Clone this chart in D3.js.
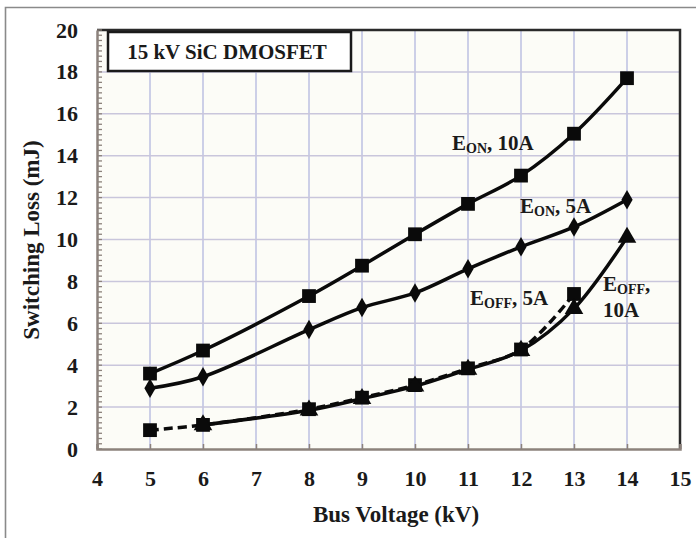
<!DOCTYPE html>
<html>
<head>
<meta charset="utf-8">
<script src="https://cdn.jsdelivr.net/npm/d3@7"></script>
<style>
  html, body { margin: 0; padding: 0; background: #ffffff; }
  svg { display: block; }
  text { font-family: "Liberation Serif", "Times New Roman", serif; fill: #1a1a1a; }
</style>
</head>
<body>
<svg id="chart" width="696" height="538"></svg>
<script>
// Bus voltage (kV) at which each switching-loss point was measured
const voltages = [5, 6, 8, 9, 10, 11, 12, 13, 14];
const voltagesOff10 = [6, 8, 9, 10, 11, 12, 13, 14];

// Switching loss (mJ)
const eOn10A  = [3.6, 4.7, 7.3, 8.75, 10.25, 11.7, 13.05, 15.05, 17.7];
const eOn5A   = [2.9, 3.45, 5.7, 6.75, 7.45, 8.6, 9.65, 10.6, 11.9];
const eOff5A  = [0.9, 1.15, 1.9, 2.45, 3.05, 3.85, 4.75, 7.4];
const eOff10A = [1.15, 1.85, 2.4, 3.0, 3.8, 4.7, 6.7, 10.1];

// Axis ticks
const xTicks = [4, 5, 6, 7, 8, 9, 10, 11, 12, 13, 14, 15];
const yTicks = [0, 2, 4, 6, 8, 10, 12, 14, 16, 18, 20];

const svg = d3.select("#chart");
const plot = { left: 97, right: 680, top: 30, bottom: 449 };

const x = d3.scaleLinear().domain([4, 15]).range([plot.left, plot.right]);
const y = d3.scaleLinear().domain([0, 20]).range([plot.bottom, plot.top]);

// Outer frame
svg.append("path")
  .attr("d", "M5.5,538 L5.5,7.5 L696,7.5")
  .attr("fill", "none").attr("stroke", "#8a8a8a").attr("stroke-width", 1.6);

// Plot background
svg.append("rect")
  .attr("x", plot.left).attr("y", plot.top)
  .attr("width", plot.right - plot.left).attr("height", plot.bottom - plot.top)
  .attr("fill", "#fcfcf7");

// Grid
const grid = svg.append("g");
grid.selectAll("line.vx").data(xTicks.slice(1, -1)).join("line")
  .attr("class", "vx")
  .attr("x1", d => x(d)).attr("x2", d => x(d))
  .attr("y1", plot.top).attr("y2", plot.bottom)
  .attr("stroke", "#bcc1e2").attr("stroke-width", 1.5);
grid.selectAll("line.hy").data(yTicks.slice(1, -1)).join("line")
  .attr("class", "hy")
  .attr("x1", plot.left).attr("x2", plot.right)
  .attr("y1", d => y(d)).attr("y2", d => y(d))
  .attr("stroke", "#c9c6dc").attr("stroke-width", 1.5);

// Top and right frame of plot
svg.append("path")
  .attr("d", `M${plot.left},${plot.top} L${plot.right},${plot.top} L${plot.right},${plot.bottom}`)
  .attr("fill", "none").attr("stroke", "#2a2a2a").attr("stroke-width", 2.5);

// Y axis with minor ticks inside
const yAxis = d3.axisLeft(y).tickValues(yTicks).tickSize(0).tickPadding(19);
const gy = svg.append("g").attr("transform", `translate(${plot.left},0)`).call(yAxis);
gy.select(".domain").attr("stroke", "#8c827c").attr("stroke-width", 2.5);
gy.selectAll(".tick text")
  .style("font-family", '"Liberation Serif", serif')
  .style("font-size", "22px").style("font-weight", "bold").attr("fill", "#2a2a2a");
const minor = d3.range(0, 20.001, 0.25);
svg.append("g").selectAll("line").data(minor).join("line")
  .attr("x1", plot.left).attr("x2", plot.left + 5)
  .attr("y1", d => y(d)).attr("y2", d => y(d))
  .attr("stroke", "#8c827c").attr("stroke-width", 1.3);

// X axis with ticks pointing up into the plot
const xAxis = d3.axisBottom(x).tickValues(xTicks).tickSize(-5).tickPadding(21);
const gx = svg.append("g").attr("transform", `translate(0,${plot.bottom})`).call(xAxis);
gx.select(".domain").attr("stroke", "#8c827c").attr("stroke-width", 2.5);
gx.selectAll(".tick line").attr("stroke", "#8c827c").attr("stroke-width", 1.5);
gx.selectAll(".tick text")
  .style("font-family", '"Liberation Serif", serif')
  .style("font-size", "22px").style("font-weight", "bold").attr("fill", "#2a2a2a");

// Axis titles
svg.append("text")
  .attr("x", 396).attr("y", 522).attr("text-anchor", "middle")
  .style("font-size", "23px").style("font-weight", "bold")
  .text("Bus Voltage (kV)");
svg.append("text")
  .attr("transform", "translate(39,240) rotate(-90)").attr("text-anchor", "middle")
  .style("font-size", "23px").style("font-weight", "bold")
  .text("Switching Loss (mJ)");

// Device title box
svg.append("rect")
  .attr("x", 108).attr("y", 32).attr("width", 243).attr("height", 39)
  .attr("fill", "#ffffff").attr("stroke", "#1a1a1a").attr("stroke-width", 2.5);
svg.append("text")
  .attr("x", 227).attr("y", 59).attr("text-anchor", "middle")
  .style("font-size", "21px").style("font-weight", "bold")
  .text("15 kV SiC DMOSFET");

// Series lines
const line = (xs, ys) => d3.line()
  .x((d, i) => x(xs[i])).y(d => y(d))
  .curve(d3.curveCatmullRom.alpha(0.5))(ys);

const series = [
  { xs: voltages, ys: eOff5A, dash: "9,5", marker: "square" },
  { xs: voltagesOff10, ys: eOff10A, dash: null, marker: "triangle" },
  { xs: voltages, ys: eOn5A, dash: null, marker: "diamond" },
  { xs: voltages, ys: eOn10A, dash: null, marker: "square" }
];

const symbols = {
  square: d3.symbol().type(d3.symbolSquare).size(190),
  diamond: d3.symbol().type(d3.symbolDiamond).size(110),
  triangle: d3.symbol().type(d3.symbolTriangle).size(150)
};

series.forEach(s => {
  svg.append("path")
    .attr("d", line(s.xs, s.ys))
    .attr("fill", "none").attr("stroke", "#0a0a0a").attr("stroke-width", 3.5)
    .attr("stroke-dasharray", s.dash);
});
series.forEach(s => {
  svg.append("g").selectAll("path").data(s.ys).join("path")
    .attr("d", symbols[s.marker]())
    .attr("transform", (d, i) => `translate(${x(s.xs[i])},${y(d)})`)
    .attr("fill", "#0a0a0a");
});

// Series labels with subscripts
function label(px, py, sub, rest) {
  const t = svg.append("text").attr("x", px).attr("y", py)
    .style("font-size", "21px").style("font-weight", "bold");
  t.append("tspan").text("E");
  t.append("tspan").attr("dy", 3).style("font-size", "14px").text(sub);
  t.append("tspan").attr("dy", -3).text(rest);
  return t;
}
label(452, 150, "ON", ", 10A");
label(520, 213, "ON", ", 5A");
label(470, 305, "OFF", ", 5A");
label(603, 291, "OFF", ",");
svg.append("text").attr("x", 603).attr("y", 317)
  .style("font-size", "21px").style("font-weight", "bold").text("10A");
</script>
</body>
</html>
